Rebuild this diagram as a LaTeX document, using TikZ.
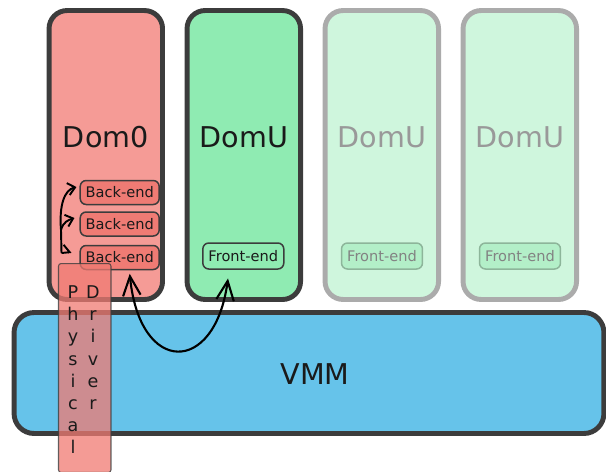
\documentclass[tikz,border=0pt]{standalone}
\usepackage{fontspec}
\setmainfont{DejaVu Sans}
\usetikzlibrary{arrows.meta}

\definecolor{edge}{HTML}{3C3C3C}
\definecolor{domzero}{HTML}{F59B96}
\definecolor{befill}{HTML}{EF7B74}
\definecolor{domufill}{HTML}{8FEBB2}
\definecolor{ghostfill}{HTML}{CFF6DD}
\definecolor{ghostedge}{HTML}{ABABAB}
\definecolor{ghostfe}{HTML}{B3EFC8}
\definecolor{ghostfeedge}{HTML}{8DB59A}
\definecolor{ghosttext}{HTML}{999999}
\definecolor{vmmfill}{HTML}{66C3EA}
\definecolor{pdfill}{HTML}{F07A72}
\definecolor{ink}{HTML}{1A1A1A}

\tikzset{
  dombox/.style={draw=edge, line width=2.8pt, fill=domzero, rounded corners=0.36cm,
    minimum width=2.27cm, minimum height=5.78cm, inner sep=0pt},
  domubox/.style={dombox, fill=domufill},
  ghostbox/.style={dombox, draw=ghostedge, fill=ghostfill},
  title/.style={font=\fontsize{16.3}{19}\selectfont, text=ink, inner sep=0pt},
  ghosttitle/.style={title, text=ghosttext},
  backend/.style={draw=edge, line width=0.85pt, fill=befill, rounded corners=0.12cm,
    minimum width=1.58cm, minimum height=0.48cm, inner sep=0pt,
    font=\fontsize{8.3}{10}\selectfont, text=ink},
  frontend/.style={backend, fill=domufill, minimum width=1.62cm, minimum height=0.52cm},
  ghostfrontend/.style={frontend, draw=ghostfeedge, fill=ghostfe, text=ghosttext!85!black},
  vmmbox/.style={draw=edge, line width=2.8pt, fill=vmmfill, rounded corners=0.4cm,
    minimum width=11.8cm, minimum height=2.42cm, inner sep=0pt},
  pdbar/.style={draw=edge, line width=0.6pt, fill=pdfill, fill opacity=0.75, draw opacity=0.8,
    rounded corners=1.5pt, minimum width=1.05cm, minimum height=4.18cm, inner sep=0pt},
  vletters/.style={align=center, inner sep=0pt, font=\fontsize{10}{12.6}\selectfont, text=ink, anchor=north},
  link/.style={line width=1.2pt, black},
  bigbarb/.tip={Straight Barb[length=11pt, width=10pt]},
  smallbarb/.tip={Straight Barb[length=4pt, width=7pt]},
  halfbarb/.tip={Straight Barb[length=3pt, width=9pt, harpoon]},
}

\begin{document}
\begin{tikzpicture}[x=0.02cm, y=-0.02cm]
\useasboundingbox (0,0) rectangle (606,471);

% domain boxes
\node[dombox]   (dom0)  at (105.8,155) {};
\node[domubox]  (domu1) at (243.8,155) {};
\node[ghostbox] (domu2) at (381.8,155) {};
\node[ghostbox] (domu3) at (519.8,155) {};

\node[title]      (t0) at (105.8,137) {Dom0};
\node[title]      (t1) at (243.8,137) {DomU};
\node[ghosttitle] (t2) at (381.8,137) {DomU};
\node[ghosttitle] (t3) at (519.8,137) {DomU};

% split driver halves
\node[backend] (be1) at (119.7,192.5) {Back-end};
\node[backend] (be2) at (119.7,224)   {Back-end};
\node[backend] (be3) at (119.7,257.5) {Back-end};

\node[frontend]      (fe1) at (243.3,256) {Front-end};
\node[ghostfrontend] (fe2) at (382,256)   {Front-end};
\node[ghostfrontend] (fe3) at (520,256)   {Front-end};

% hypervisor
\node[vmmbox] (vmm) at (309,373) {};
\node[title]  (tv)  at (315,374) {VMM};

% back-end fan-out on the left
\coordinate (tr) at (61.5,253);
\coordinate (br) at (61,230);
\draw[link, line width=1.1pt, -smallbarb] (tr) -- (br)
  .. controls +(-2,-25) and +(-12,3) .. ([shift={(-3,-5.5)}]be1.west);
\draw[link, line width=1.1pt, -smallbarb] (br)
  .. controls +(2,-8) and +(-6,2) .. ([shift={(-5,-6)}]be2.west);
\draw[link, line width=1.1pt, -halfbarb] (tr) -- ([shift={(-8,-5.5)}]be3.west);

% physical driver column
\node[pdbar] (pd) at (84.75,368) {};
\node[vletters] (phys) at (73,285.5) {P\\h\\y\\s\\i\\c\\a\\l};
\node[vletters] (drv)  at (93,285.5) {D\\r\\i\\v\\e\\r};

% back-end to front-end channel through the VMM
\draw[link, bigbarb-bigbarb] ([shift={(10,3.5)}]be3.south)
  .. controls +(10,102) and +(-13,97) .. ([shift={(-15.3,8.7)}]fe1.south);
\end{tikzpicture}
\end{document}
